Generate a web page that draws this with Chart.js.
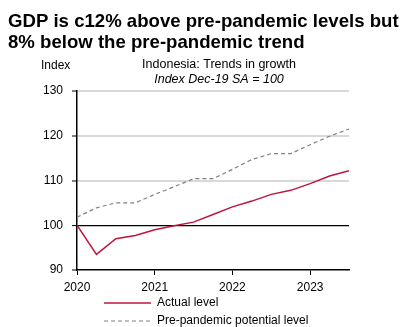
<!DOCTYPE html>
<html>
<head>
<meta charset="utf-8">
<script src="https://cdn.jsdelivr.net/npm/chart.js@4"></script>
<style>
  body { margin: 0; background: #fff; }
  #wrap { width: 417px; height: 327px; position: relative; }
</style>
</head>
<body>
<div id="wrap"><canvas id="chart"></canvas></div>
<script>
// quarters Dec-19 .. Q3-23, plotted on a year axis
const quarterLabels = ['Dec-19', 'Mar-20', 'Jun-20', 'Sep-20', 'Dec-20', 'Mar-21', 'Jun-21', 'Sep-21',
  'Dec-21', 'Mar-22', 'Jun-22', 'Sep-22', 'Dec-22', 'Mar-23', 'Jun-23'];
const quarterPos = [2020, 2020.25, 2020.5, 2020.75, 2021, 2021.25, 2021.5, 2021.75,
  2022, 2022.25, 2022.5, 2022.75, 2023, 2023.25, 2023.5];
const actualLevel = [100, 93.5, 97.0, 97.7, 99.0, 99.9, 100.7, 102.4, 104.1, 105.4, 106.9, 107.8, 109.3, 111.0, 112.2];
const potentialLevel = [101.8, 103.9, 105.0, 105.0, 106.9, 108.6, 110.4, 110.4, 112.5, 114.7, 116.0, 116.0, 118.0, 119.9, 121.5];
const yTicks = [90, 100, 110, 120, 130];
const xTicks = [2020, 2021, 2022, 2023];

const headline = ['GDP is c12% above pre-pandemic levels but', '8% below the pre-pandemic trend'];
const chartTitle = 'Indonesia: Trends in growth';
const chartSubtitle = 'Index Dec-19 SA = 100';
const yAxisLabel = 'Index';

const toPoints = vals => vals.map((v, i) => ({ x: quarterPos[i], y: v }));

// headline, axis caption and legend drawn by hand
const textPlugin = {
  id: 'texts',
  afterDraw(chart) {
    const ctx = chart.ctx;
    ctx.save();
    ctx.fillStyle = '#000';
    ctx.textBaseline = 'alphabetic';
    ctx.textAlign = 'left';
    ctx.font = 'bold 18.6px "Liberation Sans", Arial, sans-serif';
    ctx.fillText(headline[0], 8, 27);
    ctx.fillText(headline[1], 8, 48);

    ctx.font = '12px "Liberation Sans", Arial, sans-serif';
    ctx.fillText(yAxisLabel, 41, 69);

    ctx.textAlign = 'center';
    ctx.font = '12.5px "Liberation Sans", Arial, sans-serif';
    ctx.fillText(chartTitle, 219, 68);
    ctx.font = 'italic 12.5px "Liberation Sans", Arial, sans-serif';
    ctx.fillText(chartSubtitle, 219, 83);

    // legend
    ctx.textAlign = 'left';
    ctx.textBaseline = 'middle';
    ctx.font = '12px "Liberation Sans", Arial, sans-serif';
    chart.data.datasets.forEach((ds, i) => {
      const y = 303 + i * 18;
      ctx.strokeStyle = ds.borderColor;
      ctx.lineWidth = ds.borderWidth;
      ctx.setLineDash(ds.borderDash || []);
      ctx.beginPath();
      ctx.moveTo(104, y);
      ctx.lineTo(151, y);
      ctx.stroke();
      ctx.setLineDash([]);
      ctx.fillText(ds.label, 157, y);
    });
    ctx.restore();
  }
};

new Chart(document.getElementById('chart'), {
  type: 'line',
  data: {
    datasets: [
      {
        label: 'Actual level',
        data: toPoints(actualLevel),
        borderColor: '#c0143c',
        borderWidth: 1.5,
        pointRadius: 0,
        tension: 0
      },
      {
        label: 'Pre-pandemic potential level',
        data: toPoints(potentialLevel),
        borderColor: '#808080',
        borderWidth: 1.2,
        borderDash: [4, 3],
        pointRadius: 0,
        tension: 0
      }
    ]
  },
  options: {
    responsive: true,
    maintainAspectRatio: false,
    animation: false,
    layout: { padding: { left: 0, right: 68, top: 91, bottom: 0 } },
    plugins: {
      legend: { display: false },
      tooltip: { enabled: false }
    },
    scales: {
      x: {
        type: 'linear',
        min: 2020,
        max: 2023.5,
        afterBuildTicks: s => { s.ticks = xTicks.map(v => ({ value: v })); },
        afterFit: s => { s.height = 57; },
        ticks: {
          color: '#000',
          font: { size: 12, family: '"Liberation Sans", Arial, sans-serif' },
          padding: 5,
          maxRotation: 0,
          callback: v => String(v)
        },
        grid: { drawOnChartArea: false, drawTicks: true, tickLength: 5, tickColor: '#000', tickWidth: 1 },
        border: { color: '#000', width: 1.5 }
      },
      y: {
        min: 90,
        max: 130,
        afterBuildTicks: s => { s.ticks = yTicks.map(v => ({ value: v })); },
        afterFit: s => { s.width = 77; },
        ticks: {
          color: '#000',
          font: { size: 12, family: '"Liberation Sans", Arial, sans-serif' },
          padding: 9
        },
        grid: {
          color: c => c.tick.value === 100 ? '#000' : (c.tick.value === 90 ? 'rgba(0,0,0,0)' : '#d9d9d9'),
          lineWidth: c => c.tick.value === 100 ? 1.2 : 2,
          tickLength: 5,
          tickColor: '#000',
          tickWidth: 1
        },
        border: { color: '#000', width: 1.5 }
      }
    }
  },
  plugins: [textPlugin]
});
</script>
</body>
</html>
